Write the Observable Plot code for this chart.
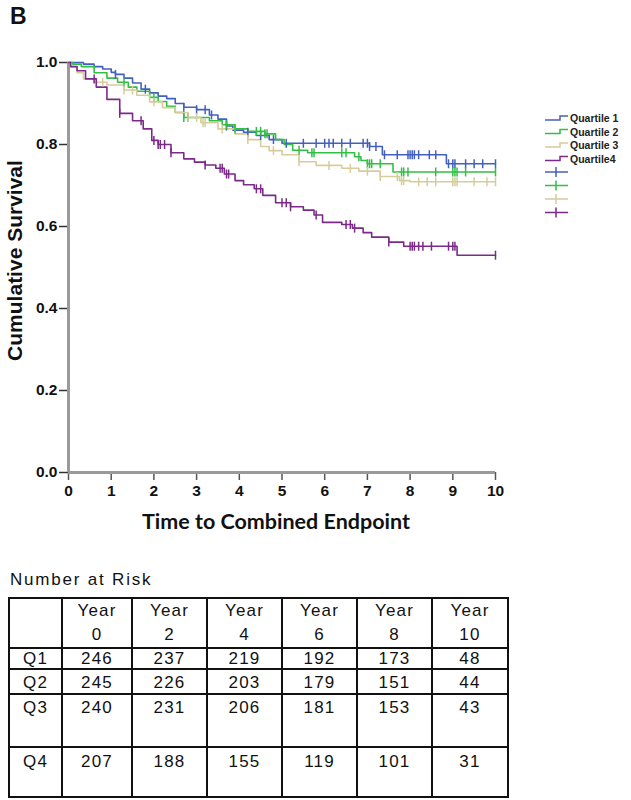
<!DOCTYPE html>
<html>
<head>
<meta charset="utf-8">
<script src="https://cdn.jsdelivr.net/npm/d3@7"></script>
<script src="https://cdn.jsdelivr.net/npm/@observablehq/plot@0.6"></script>
<style>
  body { margin: 0; background: #fff; }
  #wrap { position: relative; width: 631px; height: 800px; font-family: "Liberation Sans", Arial, sans-serif; color: #111; }
  #panel { position: absolute; left: 10px; top: 3px; font-weight: bold; font-size: 23px; }
  #chart { position: absolute; left: 0; top: 0; }
  #legend { position: absolute; left: 540px; top: 108px; }
  #risk-title { position: absolute; left: 10px; top: 570px; font-size: 17px; letter-spacing: 1.8px; }
  #risk { position: absolute; left: 8px; top: 597px; width: 499px; table-layout: fixed; border-collapse: collapse; font-size: 17px; letter-spacing: 1.2px; }
  #risk td { border: 2px solid #111; text-align: center; vertical-align: top; padding: 0; line-height: 19px; overflow: hidden; }
</style>
</head>
<body>
<div id="wrap">
  <div id="chart"></div>
  <div id="panel">B</div>
  <svg id="legend" width="90" height="115"></svg>
  <div id="risk-title">Number at Risk</div>
  <table id="risk"></table>
</div>
<script>
// ---------- data ----------
const quartiles = ["Quartile 1", "Quartile 2", "Quartile 3", "Quartile4"];
const colors = ["#4460BF", "#33BE45", "#D6CC9C", "#7B2A88"];

const q1Time = [0, 0.35, 0.6, 0.8, 1.0, 1.1, 1.3, 1.5, 1.7, 1.9, 2.1, 2.3, 2.5, 2.7, 3.0, 3.3, 3.5, 3.7, 3.85, 4.1, 4.4, 4.7, 5.0, 7.05, 7.35, 8.85, 10];
const q1Surv = [1.0, 0.996, 0.99, 0.984, 0.976, 0.971, 0.962, 0.95, 0.935, 0.926, 0.918, 0.912, 0.9, 0.891, 0.885, 0.872, 0.862, 0.845, 0.835, 0.83, 0.822, 0.812, 0.803, 0.795, 0.775, 0.753, 0.753];
const q1Censored = [1.1, 1.8, 2.7, 3.0, 3.2, 3.35, 3.7, 4.2, 4.5, 4.8, 5.1, 5.5, 5.8, 6.0, 6.1, 6.2, 6.4, 6.6, 6.9, 7.0, 7.05, 7.2, 7.4, 7.7, 7.95, 8.0, 8.05, 8.1, 8.2, 8.45, 8.6, 8.9, 9.0, 9.05, 9.3, 9.5, 9.7, 10];

const q2Time = [0, 0.1, 0.3, 0.6, 0.9, 1.15, 1.4, 1.6, 1.9, 2.1, 2.3, 2.5, 2.7, 3.3, 3.6, 3.9, 4.2, 4.6, 4.85, 5.05, 5.25, 5.6, 6.7, 6.85, 7.0, 7.6, 10];
const q2Surv = [1.0, 0.996, 0.99, 0.975, 0.962, 0.952, 0.94, 0.93, 0.915, 0.905, 0.893, 0.878, 0.866, 0.858, 0.848, 0.838, 0.832, 0.826, 0.812, 0.8, 0.786, 0.78, 0.77, 0.761, 0.753, 0.733, 0.733];
const q2Censored = [1.3, 2.0, 2.7, 2.8, 3.7, 3.9, 4.4, 4.5, 4.6, 4.65, 5.4, 5.7, 5.75, 6.4, 6.5, 6.8, 7.0, 7.05, 7.1, 7.3, 7.8, 7.85, 7.95, 8.6, 9.0, 9.05, 9.1, 9.3, 10];

const q3Time = [0, 0.05, 0.2, 0.35, 0.6, 0.9, 1.3, 1.6, 1.9, 2.2, 2.5, 2.8, 3.1, 3.5, 3.9, 4.2, 4.5, 4.7, 5.0, 5.4, 5.8, 6.4, 6.8, 7.3, 7.75, 8.0, 10];
const q3Surv = [1.0, 0.99, 0.975, 0.96, 0.952, 0.945, 0.933, 0.92, 0.904, 0.89, 0.878, 0.866, 0.853, 0.838, 0.826, 0.812, 0.795, 0.785, 0.775, 0.758, 0.749, 0.742, 0.735, 0.722, 0.712, 0.709, 0.709];
const q3Censored = [0.8, 1.3, 1.5, 2.0, 2.8, 3.0, 3.15, 3.2, 3.6, 4.2, 4.8, 5.4, 6.1, 6.6, 7.0, 7.3, 7.7, 7.8, 7.85, 8.2, 8.4, 8.6, 9.0, 9.05, 9.1, 9.5, 9.8, 10];

const q4Time = [0, 0.05, 0.2, 0.4, 0.65, 0.9, 1.2, 1.5, 1.75, 1.95, 2.1, 2.4, 2.7, 2.95, 3.2, 3.45, 3.65, 3.9, 4.1, 4.35, 4.55, 4.85, 5.2, 5.5, 5.75, 5.95, 6.4, 6.65, 6.9, 7.1, 7.5, 7.85, 9.1, 10];
const q4Surv = [1.0, 0.99, 0.98, 0.96, 0.94, 0.91, 0.876, 0.858, 0.838, 0.81, 0.8, 0.78, 0.765, 0.757, 0.75, 0.742, 0.728, 0.712, 0.702, 0.692, 0.676, 0.658, 0.648, 0.64, 0.628, 0.61, 0.605, 0.596, 0.585, 0.574, 0.562, 0.552, 0.53, 0.53];
const q4Censored = [0.6, 1.2, 1.7, 2.0, 2.1, 2.15, 2.25, 2.4, 3.2, 3.55, 3.6, 3.7, 3.75, 4.4, 4.5, 5.0, 5.1, 5.2, 5.8, 6.5, 6.6, 6.7, 7.5, 8.0, 8.05, 8.1, 8.2, 8.3, 8.5, 8.9, 9.0, 9.05, 10];

const xTicks = [0, 1, 2, 3, 4, 5, 6, 7, 8, 9, 10];
const yTicks = [0, 0.2, 0.4, 0.6, 0.8, 1.0];

const riskYears = [0, 2, 4, 6, 8, 10];
const riskGroups = ["Q1", "Q2", "Q3", "Q4"];
const riskQ1 = [246, 237, 219, 192, 173, 48];
const riskQ2 = [245, 226, 203, 179, 151, 44];
const riskQ3 = [240, 231, 206, 181, 153, 43];
const riskQ4 = [207, 188, 155, 119, 101, 31];

// ---------- build tables ----------
const series = [
  {name: quartiles[0], t: q1Time, s: q1Surv, c: q1Censored},
  {name: quartiles[1], t: q2Time, s: q2Surv, c: q2Censored},
  {name: quartiles[2], t: q3Time, s: q3Surv, c: q3Censored},
  {name: quartiles[3], t: q4Time, s: q4Surv, c: q4Censored}
];
const curveRows = series.flatMap(d => d.t.map((t, i) => ({q: d.name, t, s: d.s[i]})));
function survAt(times, survs, t) {
  const i = d3.bisectRight(times, t) - 1;
  return survs[Math.max(0, i)];
}
const censorRows = series.flatMap(d => d.c.map(t => ({q: d.name, t, s: survAt(d.t, d.s, t)})));

const vbar = {
  draw(context, size) {
    const h = Math.sqrt(size / Math.PI);
    context.moveTo(0, -h);
    context.lineTo(0, h);
  }
};

const chart = Plot.plot({
  width: 631,
  height: 545,
  marginLeft: 68,
  marginRight: 136,
  marginTop: 62,
  marginBottom: 73,
  style: {fontFamily: "Liberation Sans, Arial, sans-serif", fontWeight: "bold", color: "#111", background: "transparent"},
  x: {domain: [0, 10], label: null},
  y: {domain: [0, 1], label: null},
  color: {type: "ordinal", domain: quartiles, range: colors},
  marks: [
    Plot.axisY({ticks: yTicks, tickFormat: d3.format(".1f"), tickSize: 9, tickPadding: 2, label: null, stroke: "#333", strokeWidth: 1.5, fontSize: 15.5, fontWeight: "bold"}),
    Plot.axisX({ticks: xTicks, tickFormat: d => String(d), tickSize: 8, tickPadding: 4, label: null, stroke: "#555", strokeWidth: 1.5, fontSize: 15.5, fontWeight: "bold"}),
    Plot.ruleX([0], {stroke: "#9a9a9a", strokeWidth: 3}),
    Plot.ruleY([0], {stroke: "#9a9a9a", strokeWidth: 3}),
    Plot.line(curveRows, {x: "t", y: "s", z: "q", stroke: "q", curve: "step-after", strokeWidth: 1.6}),
    Plot.dot(censorRows, {x: "t", y: "s", stroke: "q", fill: "none", symbol: vbar, r: 4.5, strokeWidth: 1.5}),
    Plot.text(["Cumulative Survival"], {frameAnchor: "left", textAnchor: "middle", dx: -53, dy: -7, rotate: -90, fontSize: 21, fontWeight: "bold"}),
    Plot.text(["Time to Combined Endpoint"], {frameAnchor: "bottom", textAnchor: "middle", dx: -6, dy: 56, fontSize: 21.5, fontWeight: "bold", fontFamily: "Lato, sans-serif"})
  ]
});
document.getElementById("chart").appendChild(chart);

// ---------- legend ----------
const leg = d3.select("#legend");
const rowGap = 13.5;
quartiles.forEach((name, i) => {
  const y = 10 + i * rowGap;
  leg.append("path")
    .attr("d", `M5,${y + 2}H20V${y - 2}H28`)
    .attr("fill", "none").attr("stroke", colors[i]).attr("stroke-width", 1.5);
  leg.append("text")
    .attr("x", 30).attr("y", y + 4)
    .attr("font-family", "Liberation Sans, Arial, sans-serif")
    .attr("font-size", 10.5).attr("font-weight", "bold").attr("fill", "#222")
    .text(name);
});
quartiles.forEach((name, i) => {
  const y = 10 + (i + 4) * rowGap;
  leg.append("path")
    .attr("d", `M5,${y}H28M16,${y - 5}V${y + 5}`)
    .attr("fill", "none").attr("stroke", colors[i]).attr("stroke-width", 1.5);
});

// ---------- number at risk table ----------
const colWidths = [53, 70, 75, 75, 75, 75, 76];
const rowHeights = [46, 19, 23, 51, 48];
const rowPads = [0, 0, 3, 3, 4];
const table = d3.select("#risk");
const cg = table.append("colgroup");
colWidths.forEach(w => cg.append("col").style("width", w + "px"));
const header = table.append("tr");
header.append("td").style("height", rowHeights[0] + "px");
riskYears.forEach((yr) => {
  header.append("td")
    .style("line-height", "24px")
    .html(`Year<br>${yr}`);
});
const riskValues = [riskQ1, riskQ2, riskQ3, riskQ4];
riskGroups.forEach((g, i) => {
  const tr = table.append("tr");
  tr.append("td").style("height", (rowHeights[i + 1] - rowPads[i + 1]) + "px")
    .style("padding-top", rowPads[i + 1] + "px").text(g);
  riskValues[i].forEach(v => {
    tr.append("td").style("padding-top", rowPads[i + 1] + "px").text(v);
  });
});
</script>
</body>
</html>
